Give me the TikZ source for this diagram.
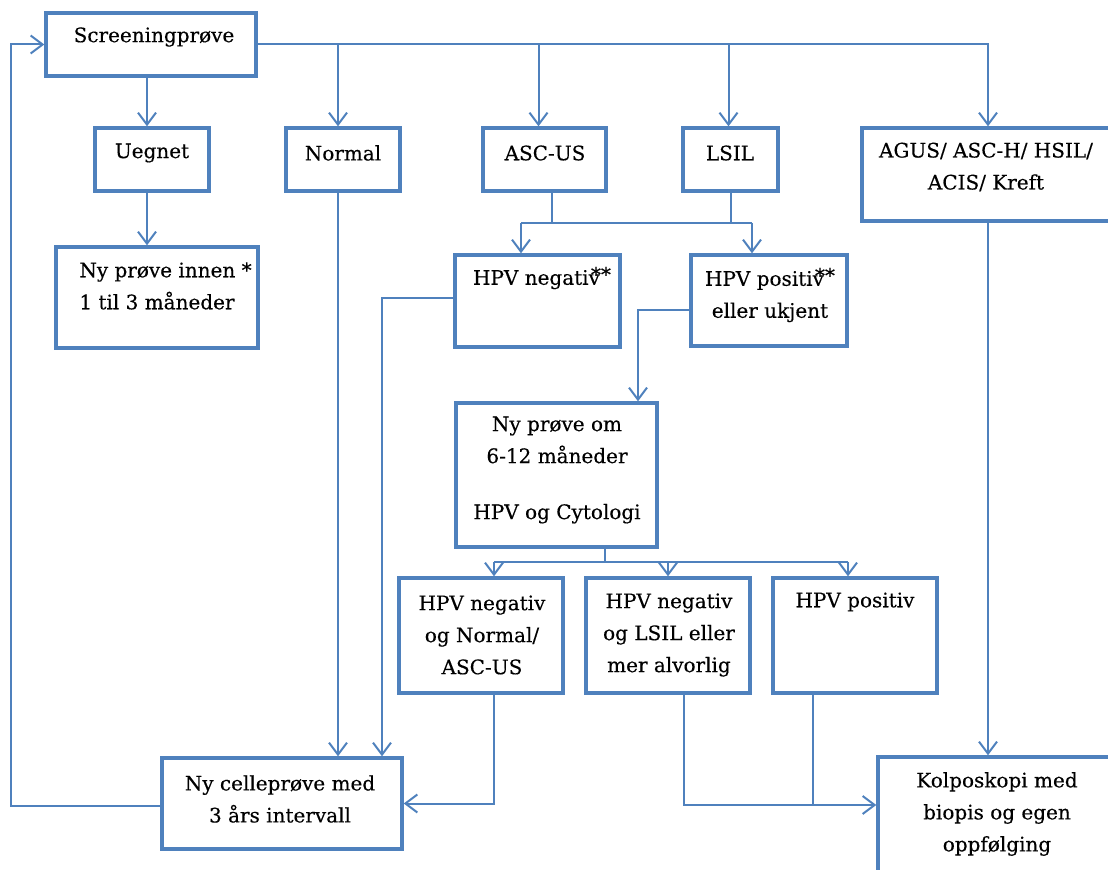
\documentclass[tikz,border=0pt]{standalone}
\usepackage{fontspec}
\setmainfont{DejaVu Serif}[FakeBold=0.3]
\usetikzlibrary{arrows.meta,fit,calc}
\definecolor{boxblue}{HTML}{4F81BD}
\tikzset{
  box/.style={draw=boxblue, line width=1.7pt, inner sep=0pt},
  txt/.style={align=center, font=\fontsize{10}{16}\selectfont, inner sep=0pt},
  link/.style={draw=boxblue, line width=1pt},
  arr/.style={link, -{Straight Barb[length=6pt,width=9pt]}}
}
\begin{document}
\begin{tikzpicture}[x=0.5pt,y=-0.5pt]
  \useasboundingbox (0,0) rectangle (1108,870);
  % Boxes
  \node[box, fit={(46,13) (256,76)}] (scr) {};
  \node[box, fit={(95,128) (209,191)}] (uegn) {};
  \node[box, fit={(286,128) (400,191)}] (norm) {};
  \node[box, fit={(483,128) (606,191)}] (ascus) {};
  \node[box, fit={(683,128) (778,191)}] (lsil) {};
  \node[box, fit={(862,128) (1114,221)}] (agus) {};
  \node[box, fit={(56,247) (258,348)}] (inn) {};
  \node[box, fit={(455,255) (620,347)}] (hneg) {};
  \node[box, fit={(691,255) (847,346)}] (hpos) {};
  \node[box, fit={(456,403) (657,547)}] (nyom) {};
  \node[box, fit={(399,578) (563,693)}] (r1) {};
  \node[box, fit={(586,578) (750,693)}] (r2) {};
  \node[box, fit={(773,578) (937,693)}] (r3) {};
  \node[box, fit={(162,758) (402,849)}] (celle) {};
  \node[box, fit={(878,757) (1120,880)}] (kolp) {};
  % Texts
  \node[txt] (scrt) at (154,37) {Screeningprøve};
  \node[txt] (uegnt) at (152,153) {Uegnet};
  \node[txt] (normt) at (343,153) {Normal};
  \node[txt] (ascust) at (545,153) {ASC-US};
  \node[txt] (lsilt) at (730,153) {LSIL};
  \node[txt] (agust) at (986,167) {AGUS/ ASC-H/ HSIL/\\ACIS/ Kreft};
  \node[txt, anchor=west, align=left] (innt) at (79,286) {Ny prøve innen *\\1 til 3 måneder};
  \node[txt] (hnegt) at (542,278) {HPV negativ\kern-0.45em\raisebox{0.3ex}{**}};
  \node[txt] (hpost) at (770,295) {HPV positiv\kern-0.45em\raisebox{0.3ex}{**}\\eller ukjent};
  \node[txt] (nyomt) at (557,470) {Ny prøve om\\6-12 måneder\\[12pt]HPV og Cytologi};
  \node[txt] (r1t) at (482,635) {HPV negativ\\og Normal/\\ASC-US};
  \node[txt] (r2t) at (669,635) {HPV negativ\\og LSIL eller\\mer alvorlig};
  \node[txt] (r3t) at (855,602) {HPV positiv};
  \node[txt] (cellet) at (280,799) {Ny celleprøve med\\3 års intervall};
  \node[txt] (kolpt) at (997,814) {Kolposkopi med\\biopis og egen\\oppfølging};
  % Junctions
  \coordinate (sA) at (521,223);
  \coordinate (sB) at (752,223);
  \coordinate (nA) at (382,298);
  \coordinate (pA) at (638,310);
  \coordinate (mA) at (494,562);
  \coordinate (mB) at (848,562);
  \coordinate (kA) at (684,805);
  \coordinate (lA) at (11,806);
  \coordinate (uA) at (147,0);
  % Connectors
  \draw[arr] (scr.east) -| (agus.north);
  \foreach \b/\dx in {norm/-5,ascus/-6,lsil/-2}
    \draw[arr] (scr.east -| {$(\b.north)+(\dx,0)$}) -- ($(\b.north)+(\dx,0)$);
  \draw[arr] (scr.south -| uA) -- (uegn.north -| uA);
  \draw[arr] (uegn.south -| uA) -- (inn.north -| uA);
  \draw[link] (ascus.south -| 552,0) -- (552,223);
  \draw[link] (lsil.south) -- (lsil.south |- sB);
  \draw[link] (sA) -- (sB);
  \draw[arr] (sA) -- (sA |- hneg.north);
  \draw[arr] (sB) -- (sB |- hpos.north);
  \draw[arr] (hneg.west |- nA) -| (nA |- celle.north);
  \draw[arr] ($(norm.south)+(-5,0)$) -- ($(norm.south |- celle.north)+(-5,0)$);
  \draw[arr] (hpos.west |- pA) -| (pA |- nyom.north);
  \draw[link] (nyom.south -| 605,0) -- (605,562);
  \draw[link] (mA) -- (mB);
  \draw[arr] (mA) -- (mA |- r1.north);
  \draw[arr] (r2.north |- mA) -- (r2.north);
  \draw[arr] (mB) -- (mB |- r3.north);
  \draw[arr] (r1.south -| mA) |- (celle.east);
  \draw[arr] (r2.south -| kA) |- (kolp.west |- kA);
  \draw[link] (r3.south -| 813,0) -- (813,805);
  \draw[arr] (agus.south) -- (agus.south |- kolp.north);
  \draw[arr] (celle.west |- lA) -| (lA |- scr.west) -- (scr.west);
\end{tikzpicture}
\end{document}
